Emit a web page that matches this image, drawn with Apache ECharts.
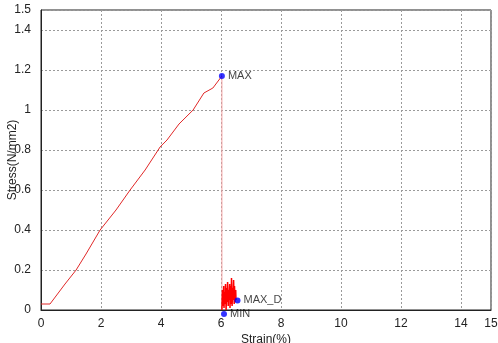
<!DOCTYPE html>
<html>
<head>
<meta charset="utf-8">
<script src="https://cdn.jsdelivr.net/npm/echarts@6/dist/echarts.min.js"></script>
<style>
html,body{margin:0;padding:0;background:#fff;}
#container1{width:498px;height:343px;}
</style>
</head>
<body>
<div id="container1"></div>
<script>
// 应力-应变曲线
var strain = [0, 0.3, 0.5, 0.8, 1.17, 1.5, 1.97, 2.5, 2.97, 3.47, 3.97, 4.2, 4.6, 5.07, 5.43, 5.73, 6.03];
var stress = [0.03, 0.03, 0.07, 0.13, 0.2, 0.28, 0.4, 0.5, 0.6, 0.7, 0.815, 0.85, 0.93, 1.0, 1.085, 1.11, 1.17];

// 断裂后的抖动部分
var noiseX = [6.03, 6.05, 6.07, 6.09, 6.1, 6.12, 6.14, 6.15, 6.17, 6.19, 6.2, 6.22, 6.24, 6.25, 6.27, 6.29, 6.3, 6.32, 6.34, 6.35, 6.37, 6.39, 6.4, 6.42, 6.44, 6.45, 6.47, 6.49, 6.5];
var noiseY = [0, 0.1, 0.02, 0.12, 0.01, 0.09, 0.03, 0.13, 0.0, 0.11, 0.04, 0.14, 0.02, 0.1, 0.05, 0.13, 0.01, 0.12, 0.03, 0.16, 0.02, 0.11, 0.05, 0.15, 0.03, 0.12, 0.04, 0.1, 0.05];

// 标记点
var markNames = ['MAX', 'MIN', 'MAX_D'];
var markX = [6.03, 6.1, 6.55];
var markY = [1.17, -0.02, 0.048];

var xTicks = [0, 2, 4, 6, 8, 10, 12, 14, 15];
var yTicks = [0, 0.2, 0.4, 0.6, 0.8, 1, 1.2, 1.4, 1.5];

function zip(a, b) {
	var out = [];
	for (var i = 0; i < a.length; i++) {
		out.push([a[i], b[i]]);
	}
	return out;
}

var dom = document.getElementById("container1");
var myChart = echarts.init(dom);

var gridLine = {
	show: true,
	lineStyle: {
		type: [2, 2],
		color: '#9a9a9a',
		width: 1
	}
};

var markData = [];
for (var i = 0; i < markNames.length; i++) {
	markData.push({ value: [markX[i], markY[i]], name: markNames[i] });
}

var option = {
	animation: false,
	textStyle: { fontFamily: 'Liberation Sans, Arial, sans-serif' },
	grid: {
		left: 41,
		right: 7,
		top: 10,
		bottom: 33,
		containLabel: false,
		outerBoundsMode: 'none',
		show: true,
		borderColor: '#222',
		borderWidth: 1
	},
	xAxis: {
		type: 'value',
		min: xTicks[0],
		max: xTicks[xTicks.length - 1],
		interval: 2,
		name: 'Strain(%)',
		nameLocation: 'middle',
		nameGap: 24,
		nameMoveOverlap: false,
		nameTextStyle: { color: '#222', fontSize: 12 },
		axisLine: { lineStyle: { color: '#222', width: 1 } },
		axisTick: { show: false },
		axisLabel: { color: '#222', fontSize: 12, margin: 8, showMaxLabel: true },
		splitLine: gridLine
	},
	yAxis: {
		type: 'value',
		min: yTicks[0],
		max: yTicks[yTicks.length - 1],
		interval: 0.2,
		name: 'Stress(N/mm2)',
		nameLocation: 'middle',
		nameGap: 22,
		nameMoveOverlap: false,
		nameTextStyle: { color: '#222', fontSize: 12 },
		axisLine: { show: true, lineStyle: { color: '#222', width: 1 } },
		axisTick: { show: false },
		axisLabel: { color: '#222', fontSize: 12, margin: 10, showMaxLabel: true },
		splitLine: gridLine
	},
	series: [
		{
			type: 'line',
			data: zip(strain, stress),
			symbol: 'none',
			lineStyle: { color: '#e02828', width: 1 },
			z: 3
		},
		{
			// 断裂竖线
			type: 'line',
			data: [[markX[0], markY[0]], [markX[0], 0]],
			symbol: 'none',
			lineStyle: { color: '#f2a0a0', width: 1 },
			z: 2
		},
		{
			type: 'line',
			data: zip(noiseX, noiseY),
			symbol: 'none',
			lineStyle: { color: '#ff0000', width: 1.5 },
			z: 3
		},
		{
			type: 'scatter',
			data: markData,
			clip: false,
			symbolSize: 6,
			itemStyle: { color: '#0000ff' },
			label: {
				show: true,
				position: 'right',
				distance: 3,
				formatter: '{b}',
				color: '#111',
				fontSize: 11
			},
			z: 5
		}
	]
};

myChart.setOption(option, true);
</script>
</body>
</html>
